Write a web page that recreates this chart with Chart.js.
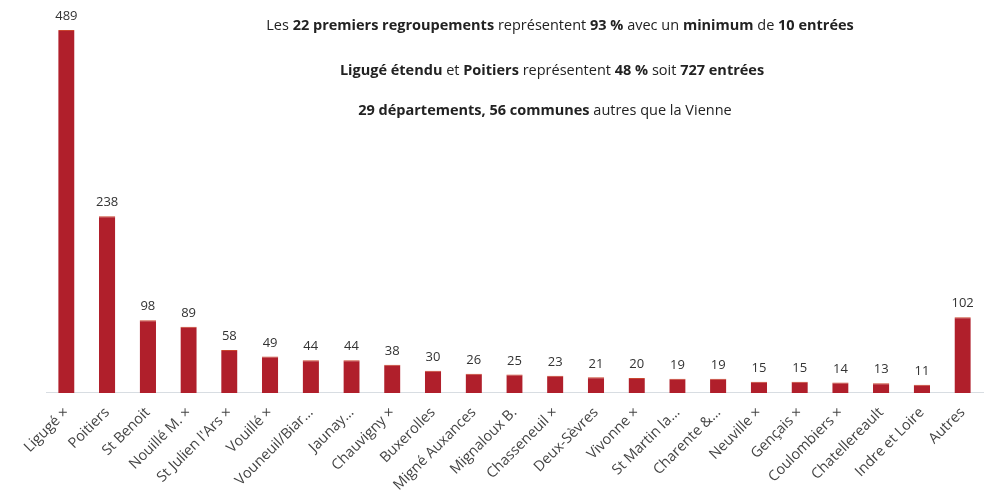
<!DOCTYPE html>
<html>
<head>
<meta charset="utf-8">
<script src="https://cdn.jsdelivr.net/npm/chart.js@4"></script>
<style>
  html, body { margin: 0; padding: 0; background: #fff; }
  #wrap { position: relative; width: 987px; height: 497px; }
  .note { position: absolute; left: 0; width: 1120px; text-align: center;
          font-family: "Open Sans", sans-serif; font-size: 14.5px; color: #222; white-space: nowrap; }
  .note b { font-weight: 700; }
</style>
</head>
<body>
<div id="wrap">
  <canvas id="barChart" width="987" height="497"></canvas>
  <div class="note" style="top:15px;">Les <b>22 premiers regroupements</b> représentent <b>93 %</b> avec un <b>minimum</b> de <b>10 entrées</b></div>
  <div class="note" style="top:60px;width:1104px;"><b>Ligugé étendu</b> et <b>Poitiers</b> représentent <b>48 %</b> soit <b>727 entrées</b></div>
  <div class="note" style="top:100px;width:1090px;"><b>29 départements, 56 communes</b> autres que la Vienne</div>
</div>
<script>
const places = ['Ligugé ×', 'Poitiers', 'St Benoit', 'Nouillé M. ×', "St Julien l'Ars ×", 'Vouillé ×',
    'Vouneuil/Biar…', 'Jaunay…', 'Chauvigny ×', 'Buxerolles', 'Migné Auxances', 'Mignaloux B.',
    'Chasseneuil ×', 'Deux-Sèvres', 'Vivonne ×', 'St Martin la…', 'Charente &…', 'Neuville ×',
    'Gençais ×', 'Coulombiers ×', 'Chatellereault', 'Indre et Loire', 'Autres'];
const entrees = [489, 238, 98, 89, 58, 49, 44, 44, 38, 30, 26, 25, 23, 21, 20, 19, 19, 15, 15, 14, 13, 11, 102];

// draw the value above each bar
const valueLabels = {
    id: 'valueLabels',
    afterDatasetsDraw(chart) {
        const ctx = chart.ctx;
        const meta = chart.getDatasetMeta(0);
        ctx.save();
        ctx.font = '13px "Open Sans", sans-serif';
        ctx.fillStyle = '#333';
        ctx.textAlign = 'center';
        ctx.textBaseline = 'bottom';
        meta.data.forEach((bar, i) => {
            ctx.fillText(chart.data.datasets[0].data[i], bar.x, bar.y - 7);
        });
        ctx.restore();
    }
};

let barCtx = document.getElementById('barChart').getContext('2d');
let barChart = new Chart(barCtx, {
    type: 'bar',
    data: {
        labels: places,
        datasets: [{
            data: entrees,
            backgroundColor: '#b01f2b',
            borderColor: '#c9452f',
            borderWidth: { top: 1, left: 0, right: 0, bottom: 0 },
            categoryPercentage: 1,
            barPercentage: 0.4
        }]
    },
    options: {
        responsive: false,
        animation: false,
        layout: { padding: { left: 46, right: 4, top: 4, bottom: 0 } },
        plugins: { legend: { display: false }, tooltip: { enabled: false } },
        scales: {
            x: {
                grid: { display: false },
                border: { color: '#d8dde2' },
                ticks: {
                    minRotation: 45,
                    maxRotation: 45,
                    autoSkip: false,
                    color: '#444',
                    font: { family: '"Open Sans", sans-serif', size: 14.5 }
                }
            },
            y: {
                display: false,
                min: 0,
                max: 524
            }
        }
    },
    plugins: [valueLabels]
});
</script>
</body>
</html>
